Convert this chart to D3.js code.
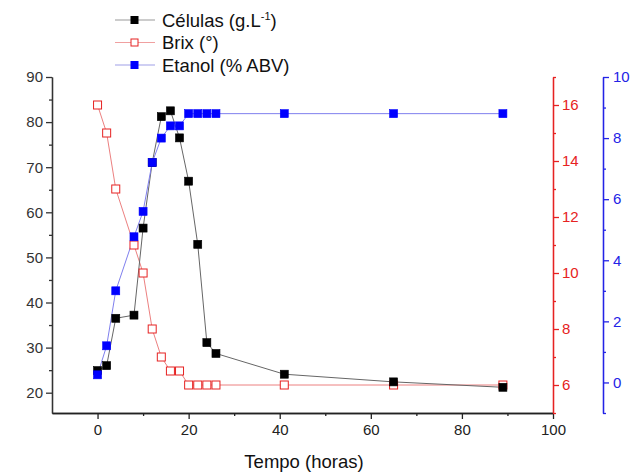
<!DOCTYPE html>
<html>
<head>
<meta charset="utf-8">
<script src="https://cdn.jsdelivr.net/npm/d3@7"></script>
<style>
body { margin: 0; background: #fff; }
svg { font-family: "Liberation Sans", Arial, sans-serif; }
</style>
</head>
<body>
<svg id="chart" width="635" height="472"></svg>
<script>
// tempo (horas)
var tempo = [0, 2, 4, 8, 10, 12, 14, 16, 18, 20, 22, 24, 26, 41, 65, 89];
// series
var celulas = [24.9, 26.0, 36.5, 37.2, 56.5, 71.0, 81.2, 82.5, 76.5, 66.9, 52.9, 31.1, 28.7, 24.1, 22.4, 21.2];
var brix = [16.0, 15.0, 13.0, 11.0, 10.0, 8.0, 7.0, 6.5, 6.5, 6.0, 6.0, 6.0, 6.0, 6.0, 6.0, 6.0];
var etanol = [0.25, 1.2, 3.0, 4.77, 5.6, 7.2, 8.0, 8.4, 8.4, 8.8, 8.8, 8.8, 8.8, 8.8, 8.8, 8.8];
// ticks
var xTicks = [0, 20, 40, 60, 80, 100], xMinor = [10, 30, 50, 70, 90];
var leftTicks = [20, 30, 40, 50, 60, 70, 80, 90], leftMinor = [25, 35, 45, 55, 65, 75, 85];
var redTicks = [6, 8, 10, 12, 14, 16], redMinor = [5, 7, 9, 11, 13, 15, 17];
var blueTicks = [0, 2, 4, 6, 8, 10], blueMinor = [-1, 1, 3, 5, 7, 9];

var svg = d3.select("#chart");
var pLeft = 52, pRight = 553, pTop = 77, pBottom = 413, blueX = 603;

var RED = "#e62222", BLUE = "#2323e6";

var x = d3.scaleLinear().domain([-10, 100]).range([pLeft, pRight]);
var yL = d3.scaleLinear().domain([15.5, 90]).range([pBottom, pTop]);
var yR = d3.scaleLinear().domain([5, 17]).range([pBottom, pTop]);
var yB = d3.scaleLinear().domain([-1, 10]).range([pBottom, pTop]);

function drawAxis(axisFn, scale, major, minor, tr, color, pad){
	var g = svg.append("g").attr("transform", tr);
	g.append("g").call(axisFn(scale).tickValues(minor).tickSize(3).tickSizeOuter(0).tickFormat(""));
	g.append("g").call(axisFn(scale).tickValues(major).tickSize(6).tickSizeOuter(0).tickPadding(pad));
	g.selectAll("path, line").attr("stroke", color).attr("stroke-width", 1.3);
	g.selectAll("text").attr("fill", color).style("font-size", "15px")
		.style("font-family", "'Liberation Sans', Arial, sans-serif");
	return g;
}

drawAxis(d3.axisBottom, x, xTicks, xMinor, "translate(0," + pBottom + ")", "#222", 5);
drawAxis(d3.axisLeft, yL, leftTicks, leftMinor, "translate(" + pLeft + ",0)", "#333", 3);
drawAxis(d3.axisRight, yR, redTicks, redMinor, "translate(" + pRight + ",0)", RED, 3);
drawAxis(d3.axisRight, yB, blueTicks, blueMinor, "translate(" + blueX + ",0)", BLUE, 4);

svg.append("text").attr("x", 304).attr("y", 468).attr("text-anchor", "middle")
	.style("font-size", "18.5px").attr("fill", "#111").text("Tempo (horas)");

// series
var series = [
	{ name: "brix", values: brix, y: yR, line: "#ec8080", stroke: RED, fill: "#fff" },
	{ name: "celulas", values: celulas, y: yL, line: "#666", stroke: "#000", fill: "#000" },
	{ name: "etanol", values: etanol, y: yB, line: "#7f7fee", stroke: "#0000ff", fill: "#0000ff" }
];
var ms = 8;

series.forEach(function(s){
	var pts = tempo.map(function(t, i){ return [t, s.values[i]]; });
	var line = d3.line().x(function(d){ return x(d[0]); }).y(function(d){ return s.y(d[1]); });
	svg.append("path").datum(pts).attr("d", line).attr("fill", "none")
		.attr("stroke", s.line).attr("stroke-width", 1);
});
series.forEach(function(s){
	var pts = tempo.map(function(t, i){ return [t, s.values[i]]; });
	svg.append("g").selectAll("rect").data(pts).enter().append("rect")
		.attr("x", function(d){ return x(d[0]) - ms / 2; })
		.attr("y", function(d){ return s.y(d[1]) - ms / 2; })
		.attr("width", ms).attr("height", ms)
		.attr("fill", s.fill).attr("stroke", s.stroke).attr("stroke-width", s.name == "brix" ? 1 : 0.6);
});

// legend
var legend = [
	{ label: "Células (g.L", sup: "-1", after: ")", line: "#999", stroke: "#000", fill: "#000" },
	{ label: "Brix (°)", line: "#f0a0a0", stroke: RED, fill: "#fff" },
	{ label: "Etanol (% ABV)", line: "#a0a0e8", stroke: "#0000ff", fill: "#0000ff" }
];
legend.forEach(function(d, i){
	var cy = 20 + i * 22.5;
	var g = svg.append("g");
	g.append("line").attr("x1", 115).attr("x2", 155).attr("y1", cy).attr("y2", cy)
		.attr("stroke", d.line).attr("stroke-width", 1.2);
	g.append("rect").attr("x", 131).attr("y", cy - 3.5).attr("width", 7).attr("height", 7)
		.attr("fill", d.fill).attr("stroke", d.stroke).attr("stroke-width", 1);
	var t = g.append("text").attr("x", 162).attr("y", cy + 6.5).style("font-size", "18.5px").attr("fill", "#111");
	t.append("tspan").text(d.label);
	if (d.sup) {
		t.append("tspan").attr("dy", -7).style("font-size", "11px").text(d.sup);
		t.append("tspan").attr("dy", 7).text(d.after);
	}
});
</script>
</body>
</html>
